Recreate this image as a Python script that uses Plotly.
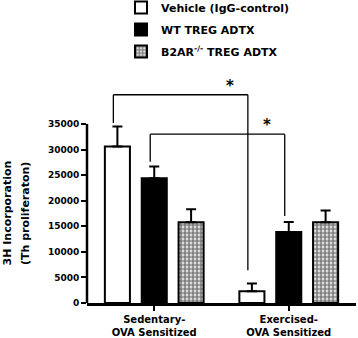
import plotly.graph_objects as go

categories = ["Sedentary-<br>OVA Sensitized", "Exercised-<br>OVA Sensitized"]
series_names = ["Vehicle (IgG-control)", "WT TREG ADTX", "B2AR<sup>-/-</sup> TREG ADTX"]
vehicle = [30600, 2300]
vehicle_err = [3900, 1500]
wt = [24400, 13900]
wt_err = [2300, 1950]
b2ar = [15800, 15800]
b2ar_err = [2500, 2300]
y_ticks = [0, 5000, 10000, 15000, 20000, 25000, 30000, 35000]
y_title = ["3H Incorporation", "(Th proliferaton)"]
# significance brackets: (category, bar index) pairs, top height, leg bottoms, star
brackets = [
    {"from": (0, 0), "to": (1, 0), "top": 40700, "bot0": 35200, "bot1": 6400, "star": "*"},
    {"from": (0, 1), "to": (1, 1), "top": 33000, "bot0": 27600, "bot1": 17000, "star": "*"},
]

YMAX = 43000
FONT = "DejaVu Sans"
BARGAP = 0.178
slot = (1 - BARGAP) / 3

fig = go.Figure()
styles = [
    dict(color="white"),
    dict(color="black"),
    dict(color="white", pattern=dict(shape=".", fgcolor="black", bgcolor="white", size=4, solidity=0.7)),
]
for name, vals, errs, st in zip(series_names, [vehicle, wt, b2ar], [vehicle_err, wt_err, b2ar_err], styles):
    fig.add_trace(go.Bar(
        name=name, x=categories, y=vals,
        marker=dict(line=dict(color="black", width=2), **st),
        error_y=dict(type="data", array=errs, arrayminus=[0] * len(errs), symmetric=False,
                     color="black", thickness=2, width=5),
        legendgroup=name,
    ))

def bx(pos, shift=-0.03):
    g, i = pos
    return g + (i - 1) * slot + shift

for b in brackets:
    x0, x1 = bx(b["from"]), bx(b["to"])
    fig.add_shape(type="line", x0=x0, x1=x0, y0=b["bot0"], y1=b["top"], xref="x", yref="y",
                  line=dict(color="black", width=1.3))
    fig.add_shape(type="line", x0=x0, x1=x1, y0=b["top"], y1=b["top"], xref="x", yref="y",
                  line=dict(color="black", width=1.3))
    fig.add_shape(type="line", x0=x1, x1=x1, y0=b["bot1"], y1=b["top"], xref="x", yref="y",
                  line=dict(color="black", width=1.3))
    fig.add_annotation(x=x1 - 0.13, y=b["top"], text="<b>*</b>", showarrow=False, xref="x", yref="y",
                       yanchor="bottom", font=dict(family=FONT, size=15, color="black"), yshift=-2)

# y axis line only up to 35000
fig.add_shape(type="line", xref="paper", yref="paper", x0=0, x1=0, y0=0, y1=max(y_ticks) / YMAX,
              line=dict(color="black", width=2.5))

for k, t in enumerate(y_title):
    fig.add_annotation(xref="paper", yref="paper", x=0, y=(max(y_ticks) / 2) / YMAX, text="<b>%s</b>" % t,
                       textangle=-90, showarrow=False, xanchor="center", yanchor="middle",
                       xshift=-80 + 18.5 * k, font=dict(family=FONT, size=11, color="black"))

fig.update_layout(
    width=358, height=338,
    margin=dict(l=87, r=2, t=83, b=35, autoexpand=False),
    paper_bgcolor="white", plot_bgcolor="white",
    barmode="group", bargap=BARGAP, bargroupgap=0.32,
    font=dict(family=FONT, color="black"),
    showlegend=True,
    legend=dict(x=0.338, xref="container", y=1.409, yref="paper", xanchor="left", yanchor="top",
                font=dict(family=FONT, size=11, color="black", weight="bold"),
                bgcolor="rgba(0,0,0,0)", tracegroupgap=3, borderwidth=0),
    xaxis=dict(showline=True, linecolor="black", linewidth=2.5, ticks="outside", ticklen=5, tickwidth=2,
               tickcolor="black", showgrid=False, zeroline=False, automargin=False,
               tickfont=dict(family=FONT, size=10, color="black", weight="bold"), range=[-0.5, 1.5]),
    yaxis=dict(range=[0, YMAX], tickvals=y_ticks, ticktext=[str(v) for v in y_ticks], showline=False,
               ticks="outside", ticklen=5, tickwidth=2, tickcolor="black", showgrid=False, zeroline=False,
               automargin=False,
               tickfont=dict(family=FONT, size=9, color="black", weight="bold")),
)

fig.write_html("out.html", config={"displayModeBar": False},
               post_script="document.body.style.margin='0';")
